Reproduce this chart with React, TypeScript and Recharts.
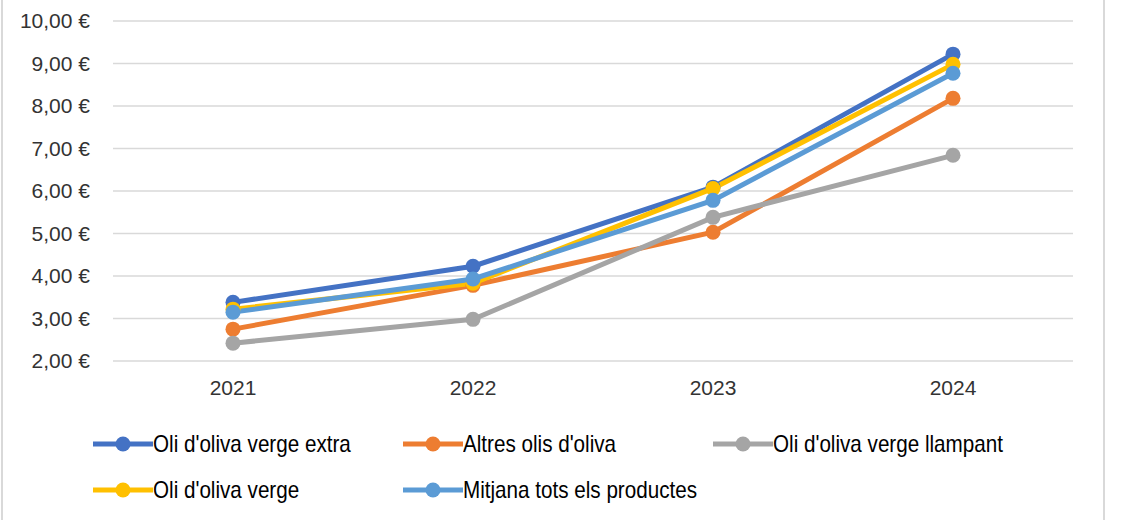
import { LineChart, Line, XAxis, YAxis, CartesianGrid } from "recharts";

const years = ["2021", "2022", "2023", "2024"];
const extra = [3.38, 4.23, 6.09, 9.22];
const altres = [2.75, 3.78, 5.03, 8.18];
const llampant = [2.42, 2.98, 5.38, 6.84];
const verge = [3.22, 3.83, 6.06, 8.98];
const mitjana = [3.15, 3.93, 5.78, 8.77];
const yTicks = [2, 3, 4, 5, 6, 7, 8, 9, 10];

const series = [
  { key: "extra", name: "Oli d'oliva verge extra", color: "#4472C4", values: extra },
  { key: "altres", name: "Altres olis d'oliva", color: "#ED7D31", values: altres },
  { key: "llampant", name: "Oli d'oliva verge llampant", color: "#A5A5A5", values: llampant },
  { key: "verge", name: "Oli d'oliva verge", color: "#FFC000", values: verge },
  { key: "mitjana", name: "Mitjana tots els productes", color: "#5B9BD5", values: mitjana },
];

const data = years.map((year, i) => {
  const row: Record<string, string | number> = { year };
  series.forEach((s) => (row[s.key] = s.values[i]));
  return row;
});

const euro = (v: number) => `${v.toFixed(2).replace(".", ",")} €`;
const axisFont = { fontSize: 21, fill: "#333", fontFamily: "'Liberation Sans', Arial, sans-serif" };

function LegendItem({ name, color, left, top }: { name: string; color: string; left: number; top: number }) {
  return (
    <div style={{ position: "absolute", left, top, display: "flex", alignItems: "center", height: 30 }}>
      <svg width={60} height={18}>
        <line x1={0} y1={9} x2={60} y2={9} stroke={color} strokeWidth={5} strokeLinecap="round" />
        <circle cx={30} cy={9} r={7.5} fill={color} />
      </svg>
      {/* no narrow font installed, so squeeze the regular one */}
      <span style={{ fontFamily: "'Liberation Sans', Arial, sans-serif", fontSize: 24, color: "#000", whiteSpace: "nowrap",
                     display: "inline-block", transform: "scaleX(0.86)", transformOrigin: "left center" }}>
        {name}
      </span>
    </div>
  );
}

export default function App() {
  const legendPos = [
    { left: 93, top: 429 },
    { left: 403, top: 429 },
    { left: 713, top: 429 },
    { left: 93, top: 475 },
    { left: 403, top: 475 },
  ];
  return (
    <div style={{ position: "absolute", left: 0, top: 0, width: 1122, height: 520, background: "#fff", overflow: "hidden" }}>
      <div style={{ position: "absolute", left: 1, top: 0, width: 1100, height: 520, borderLeft: "2px solid #D9D9D9", borderRight: "2px solid #D9D9D9" }} />
      <LineChart width={1122} height={520} data={data} margin={{ top: 21, right: 49, left: 0, bottom: 99 }}>
        <CartesianGrid horizontal vertical={false} stroke="#D9D9D9" strokeWidth={1.5} />
        <XAxis dataKey="year" height={60} padding={{ left: 120, right: 120 }} tickLine={false} axisLine={false}
               tickSize={0} tickMargin={19} tick={axisFont} />
        <YAxis type="number" domain={[2, 10]} ticks={yTicks} width={113} tickFormatter={euro} tickLine={false}
               axisLine={false} tickSize={0} tickMargin={23} tick={axisFont} interval={0} />
        {series.map((s) => (
          <Line key={s.key} dataKey={s.key} name={s.name} stroke={s.color} strokeWidth={5} type="linear"
                dot={{ r: 7.5, fill: s.color, stroke: "none" }} activeDot={false} isAnimationActive={false} />
        ))}
      </LineChart>
      {series.map((s, i) => (
        <LegendItem key={s.key} name={s.name} color={s.color} left={legendPos[i].left} top={legendPos[i].top} />
      ))}
    </div>
  );
}
